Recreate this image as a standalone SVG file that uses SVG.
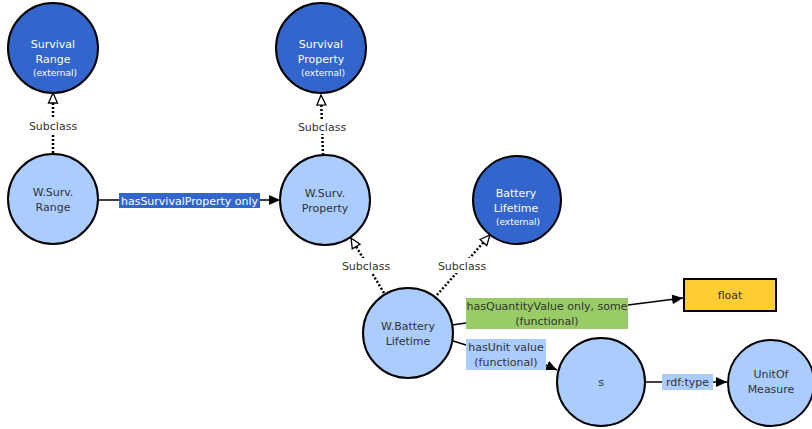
<svg xmlns="http://www.w3.org/2000/svg" width="812" height="429" viewBox="0 0 812 429">
  <style>
    .ext { fill: #3366cc; stroke: #000; stroke-width: 2; }
    .cls { fill: #aaccff; stroke: #000; stroke-width: 2; }
    .lit { fill: #ffcc33; stroke: #000; stroke-width: 2; }
    .t { font-family: "DejaVu Sans", Verdana, sans-serif; font-size: 11px; text-anchor: middle; }
    .tw { fill: #ffffff; }
    .td { fill: #333333; }
    .small { font-size: 9px; }
    .edge { stroke: #000; stroke-width: 1.5; fill: none; }
    .sub { stroke: #000; stroke-width: 2.5; stroke-dasharray: 2 2; fill: none; }
    .lbl { font-family: "DejaVu Sans", Verdana, sans-serif; font-size: 11px; text-anchor: middle; fill: #333333; }
  </style>
  <defs>
    <marker id="arrow" markerUnits="userSpaceOnUse" markerWidth="12" markerHeight="12" viewBox="0 0 12 12" refX="11" refY="6" orient="auto">
      <path d="M0,1 L11,6 L0,11 z" fill="#000"/>
    </marker>
    <marker id="hollow" markerUnits="userSpaceOnUse" markerWidth="12" markerHeight="12" viewBox="0 0 12 12" refX="11" refY="6" orient="auto">
      <path d="M1,1.5 L11,6 L1,10.5 z" fill="#fff" stroke="#000" stroke-width="1.3"/>
    </marker>
  </defs>

  <!-- connectors -->
  <g id="connectors">
    <!-- subclass links -->
    <line class="sub" x1="53" y1="153" x2="53" y2="93" marker-end="url(#hollow)"/>
    <rect x="29" y="118" width="48" height="15" fill="#fff"/>
    <text class="lbl" x="53" y="130">Subclass</text>

    <line class="sub" x1="323" y1="155" x2="321" y2="95" marker-end="url(#hollow)"/>
    <rect x="297" y="119" width="48" height="15" fill="#fff"/>
    <text class="lbl" x="322" y="131">Subclass</text>

    <line class="sub" x1="384" y1="293" x2="351" y2="238" marker-end="url(#hollow)"/>
    <rect x="342" y="258" width="48" height="15" fill="#fff"/>
    <text class="lbl" x="366" y="270">Subclass</text>

    <line class="sub" x1="437" y1="295" x2="490" y2="235" marker-end="url(#hollow)"/>
    <rect x="438" y="258" width="48" height="15" fill="#fff"/>
    <text class="lbl" x="462" y="270">Subclass</text>

    <!-- hasSurvivalProperty only -->
    <line class="edge" x1="98" y1="200" x2="280" y2="200" marker-end="url(#arrow)"/>
    <rect x="119" y="193" width="141" height="15" fill="#3366cc"/>
    <text class="t tw" x="189.5" y="204.5">hasSurvivalProperty only</text>

    <!-- hasQuantityValue -->
    <line class="edge" x1="452" y1="325" x2="466" y2="323"/>
    <line class="edge" x1="628" y1="305" x2="683" y2="298" marker-end="url(#arrow)"/>
    <rect x="466" y="298" width="162" height="31" fill="#99cc66"/>
    <text class="t td" x="547" y="309.5">hasQuantityValue only, some</text>
    <text class="t td" x="547" y="324.5">(functional)</text>

    <!-- hasUnit value -->
    <line class="edge" x1="450" y1="340" x2="466" y2="345"/>
    <line class="edge" x1="546" y1="365" x2="557" y2="370" marker-end="url(#arrow)"/>
    <rect x="466" y="339" width="80" height="31" fill="#aaccff"/>
    <text class="t td" x="506" y="350.5">hasUnit value</text>
    <text class="t td" x="506" y="365.5">(functional)</text>

    <!-- rdf:type -->
    <line class="edge" x1="645" y1="382" x2="727" y2="382" marker-end="url(#arrow)"/>
    <rect x="662" y="374" width="51" height="16" fill="#aaccff"/>
    <text class="t td" x="687.5" y="386">rdf:type</text>
  </g>

  <!-- nodes -->
  <g id="survival-range">
    <circle class="ext" cx="53" cy="48" r="45"/>
    <text class="t tw" x="53" y="48">Survival</text>
    <text class="t tw" x="53" y="63">Range</text>
    <text class="t tw small" x="55" y="76">(external)</text>
  </g>

  <g id="w-surv-range">
    <circle class="cls" cx="53" cy="199" r="45"/>
    <text class="t td" x="53" y="196">W.Surv.</text>
    <text class="t td" x="53" y="211">Range</text>
  </g>

  <g id="survival-property">
    <circle class="ext" cx="321" cy="48" r="45"/>
    <text class="t tw" x="321" y="48">Survival</text>
    <text class="t tw" x="321" y="63">Property</text>
    <text class="t tw small" x="323" y="76">(external)</text>
  </g>

  <g id="w-surv-property">
    <circle class="cls" cx="325" cy="200" r="45"/>
    <text class="t td" x="325" y="197">W.Surv.</text>
    <text class="t td" x="325" y="212">Property</text>
  </g>

  <g id="battery-lifetime">
    <circle class="ext" cx="517" cy="200" r="44"/>
    <text class="t tw" x="516" y="197">Battery</text>
    <text class="t tw" x="516" y="212">Lifetime</text>
    <text class="t tw small" x="518" y="225">(external)</text>
  </g>

  <g id="w-battery-lifetime">
    <circle class="cls" cx="408" cy="333" r="45"/>
    <text class="t td" x="408" y="330">W.Battery</text>
    <text class="t td" x="408" y="345">Lifetime</text>
  </g>

  <g id="float">
    <rect class="lit" x="684" y="279" width="92" height="32"/>
    <text class="t td" x="730" y="299">float</text>
  </g>

  <g id="s">
    <circle class="cls" cx="601" cy="382" r="44"/>
    <text class="t td" x="601" y="386">s</text>
  </g>

  <g id="unit-of-measure">
    <circle class="cls" cx="771" cy="383" r="43"/>
    <text class="t td" x="771" y="378">UnitOf</text>
    <text class="t td" x="771" y="393">Measure</text>
  </g>
</svg>
